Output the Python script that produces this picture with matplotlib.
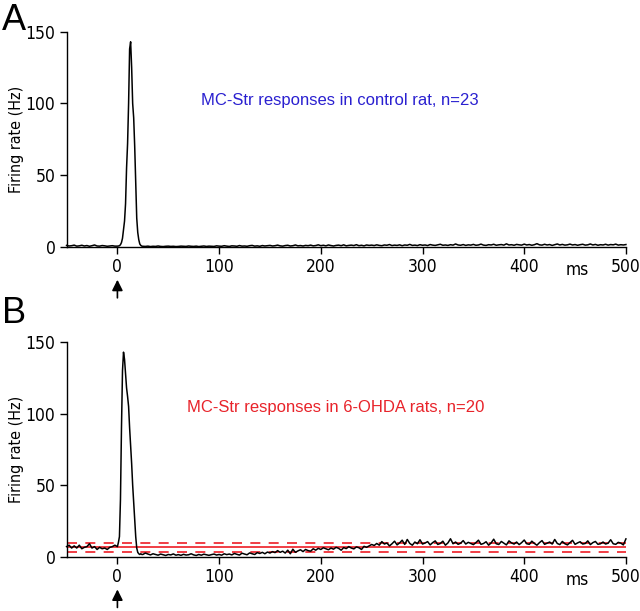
import numpy as np
import matplotlib
matplotlib.use("Agg")
import matplotlib.pyplot as plt

# time bins (ms): coarse before and after the response, 1 ms around the peak
t_pre = np.arange(-50, 0, 2.5)
t_peak = np.arange(0, 25, 1.0)
t_post = np.arange(25, 500.1, 2.5)
time_ms = np.concatenate([t_pre, t_peak, t_post])

# panel A: control rat
ctrl_pre = [1.0, 0.6, 0.8, 1.2, 0.5, 0.7, 1.1, 0.6, 0.9, 0.4,
            0.8, 1.3, 0.6, 0.5, 0.9, 0.7, 0.4, 0.6, 0.8, 0.5]
ctrl_peak = [0.5, 0.6, 0.8, 1.5, 3, 6, 12, 18, 30, 55,
             72, 100, 138, 143, 125, 100, 90, 70, 45, 20,
             10, 5, 2, 1, 0.5]
ctrl_post = [0.4, 0.3, 0.5, 0.2, 0.4, 0.3, 0.6, 0.3, 0.2, 0.4,
             0.5, 0.3, 0.4, 0.2, 0.3, 0.5, 0.4, 0.3, 0.6, 0.4,
             0.3, 0.5, 0.2, 0.4, 0.6, 0.3, 0.5, 0.4, 0.3, 0.7,
             0.5, 0.4, 0.8, 0.5, 0.3, 0.7, 0.6, 0.4, 0.9, 0.5,
             0.6, 0.4, 0.8, 1.0, 0.5, 0.7, 0.4, 0.9, 0.6, 0.8,
             1.0, 0.6, 0.8, 1.2, 0.7, 0.5, 0.9, 1.1, 0.6, 0.8,
             1.3, 0.7, 0.9, 0.6, 1.0, 0.8, 1.2, 0.7, 0.9, 1.4,
             0.8, 1.1, 0.7, 1.3, 0.9, 0.6, 1.0, 1.2, 0.8, 1.4,
             0.7, 1.0, 1.2, 0.9, 1.5, 0.8, 1.1, 0.7, 1.3, 1.0,
             1.2, 0.9, 1.4, 1.0, 0.8, 1.3, 1.1, 1.6, 0.9, 1.2,
             1.0, 1.4, 0.8, 1.3, 1.1, 1.7, 1.0, 1.2, 0.9, 1.5,
             1.1, 1.3, 0.9, 1.6, 1.2, 1.0, 1.4, 1.8, 1.1, 1.3,
             1.0, 1.5, 1.2, 2.0, 1.3, 1.1, 1.6, 1.0, 1.4, 1.2,
             1.7, 1.1, 1.3, 1.9, 1.2, 1.0, 1.5, 1.3, 1.8, 1.1,
             1.4, 1.6, 1.2, 2.1, 1.3, 1.5, 1.1, 1.7, 1.4, 1.2,
             1.9, 1.3, 1.6, 1.1, 1.5, 2.2, 1.4, 1.2, 1.8, 1.3,
             1.6, 1.0, 1.5, 2.0, 1.3, 1.7, 1.2, 1.4, 1.9, 1.3,
             1.6, 1.1, 1.5, 1.8, 1.2, 1.4, 2.0, 1.3, 1.7, 1.1,
             1.5, 1.3, 1.8, 1.2, 1.6, 1.4, 1.9, 1.2, 1.5, 1.3, 1.6]

# panel B: 6-OHDA rats
ohda_pre = [7, 8, 6, 7.5, 6, 8, 5.5, 6.5, 7, 9,
            6, 7, 5, 6.5, 5.5, 6, 5, 6.5, 7, 8]
ohda_peak = [7, 10, 14, 40, 90, 130, 143, 138, 128, 118,
             112, 105, 90, 78, 65, 50, 38, 25, 14, 6,
             3, 2, 1.5, 2, 1.5]
ohda_post = [1.5, 2.5, 1.8, 1.2, 2.0, 1.5, 1.0, 1.8, 1.3, 0.8,
             1.5, 1.2, 1.9, 1.0, 1.4, 0.9, 1.6, 1.1, 1.3, 2.0,
             1.2, 0.8, 1.5, 1.0, 1.7, 1.3, 0.9, 1.4, 1.8, 1.1,
             1.5, 1.0, 2.0, 1.4, 1.8, 1.2, 2.2, 1.6, 1.1, 2.4,
             1.8, 1.3, 2.6, 2.0, 1.5, 2.8, 2.2, 3.0, 2.0, 3.2,
             2.5, 3.5, 2.8, 4.2, 3.0, 3.8, 2.5, 4.5, 2.0, 5.2,
             3.0, 4.0, 4.8, 3.5, 5.0, 4.2, 3.8, 5.5, 4.5, 5.8,
             5.0, 6.2, 5.5, 4.8, 6.0, 5.2, 6.5, 5.8, 4.5, 6.3,
             5.6, 7.0, 6.0, 5.4, 6.8, 6.2, 5.0, 7.2, 6.5, 7.5,
             8.5, 7.8, 9.2, 8.0, 10.5, 8.8, 9.5, 7.5, 9.0, 10.8,
             8.2, 9.6, 11.5, 8.5, 12.0, 9.2, 8.0, 10.2, 9.0, 11.8,
             8.8, 9.5, 10.5, 8.2, 9.8, 11.0, 8.5, 9.2, 10.8, 8.0,
             9.6, 12.5, 9.0, 10.2, 8.6, 9.4, 11.2, 8.8, 10.0, 9.2,
             8.4, 9.8, 11.5, 8.6, 9.2, 10.4, 8.0, 9.6, 12.2, 9.0,
             8.5, 10.6, 9.4, 8.2, 11.0, 9.6, 8.8, 10.2, 8.4, 9.8,
             11.6, 9.0, 8.6, 10.8, 9.2, 8.0, 9.8, 11.2, 8.6, 9.4,
             10.2, 8.8, 12.0, 9.2, 8.4, 10.6, 9.0, 8.2, 9.8, 11.4,
             8.6, 9.6, 10.4, 8.8, 9.2, 11.0, 8.4, 9.8, 10.6, 8.6,
             9.0, 10.2, 8.8, 9.4, 11.8, 9.0, 8.6, 10.0, 9.4, 8.2, 12.4]

ohda_mean = 6.6
ohda_band = [3.3, 9.4]

rate_ctrl = np.array(ctrl_pre + ctrl_peak + ctrl_post)
rate_ohda = np.array(ohda_pre + ohda_peak + ohda_post)

xticks = [0, 100, 200, 300, 400, 500]
yticks = [0, 50, 100, 150]

plt.rcParams["font.family"] = ["DejaVu Sans"]
plt.rcParams["font.stretch"] = "condensed"

fig = plt.figure(figsize=(6.4, 6.11), dpi=100)
ax_a = fig.add_axes([0.104, 0.596, 0.874, 0.352])
ax_b = fig.add_axes([0.104, 0.089, 0.874, 0.351])


def style_axis(ax):
    ax.set_xlim(-50, 500)
    ax.set_ylim(0, 150)
    for s in ["top", "right"]:
        ax.spines[s].set_visible(False)
    ax.spines["left"].set_linewidth(1.0)
    ax.spines["bottom"].set_linewidth(1.0)
    ax.set_xticks(xticks)
    ax.set_yticks(yticks)
    ax.tick_params(length=5, width=1.0, labelsize=12.5, pad=3)
    ax.set_ylabel("Firing rate (Hz)", fontsize=11.5, labelpad=1)
    ax.text(452, -0.065, "ms", transform=ax.get_xaxis_transform(),
            ha="center", va="top", fontsize=12.5)
    ax.annotate("", xy=(0, -0.14), xytext=(0, -0.25),
                xycoords=ax.get_xaxis_transform(),
                textcoords=ax.get_xaxis_transform(),
                arrowprops=dict(arrowstyle="-|>", color="black", lw=1.2,
                                mutation_scale=16))


style_axis(ax_a)
ax_a.plot(time_ms, rate_ctrl, color="black", lw=1.1, clip_on=False)
ax_a.text(82, 102, "MC-Str responses in control rat, n=23", color="#2a20d0",
          fontsize=12, family="Liberation Sans", stretch="normal",
          va="center", ha="left")

style_axis(ax_b)
ax_b.axhline(ohda_mean, color="#ee1c25", lw=1.2)
for lvl in ohda_band:
    ax_b.axhline(lvl, color="#ee1c25", lw=1.2, ls=(0, (6, 5)))
ax_b.plot(time_ms, rate_ohda, color="black", lw=1.1, clip_on=False)
ax_b.text(68, 104, "MC-Str responses in 6-OHDA rats, n=20", color="#e8232a",
          fontsize=12, family="Liberation Sans", stretch="normal",
          va="center", ha="left")

fig.text(0.003, 0.995, "A", fontsize=26, family="Liberation Sans",
         stretch="normal", va="top", ha="left")
fig.text(0.003, 0.515, "B", fontsize=26, family="Liberation Sans",
         stretch="normal", va="top", ha="left")

fig.savefig("out.png", dpi=100)
